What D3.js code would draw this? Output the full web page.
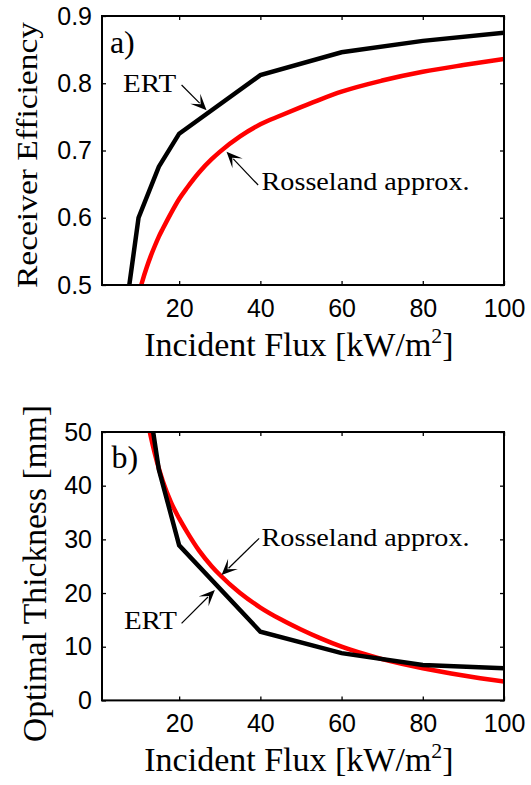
<!DOCTYPE html>
<html><head><meta charset="utf-8">
<script src="https://cdn.jsdelivr.net/npm/d3@7"></script>
<style>
html,body{margin:0;padding:0;background:#fff;}
svg{display:block;}
</style></head>
<body>
<script>
// ---------- data ----------
const xTicks = [20, 40, 60, 80, 100];
const effTicks = [0.5, 0.6, 0.7, 0.8, 0.9];
const effTickLabels = ["0.5", "0.6", "0.7", "0.8", "0.9"];
const thkTicks = [0, 10, 20, 30, 40, 50];

// ERT (black) — panel a: receiver efficiency
const ertFlux = [5, 10, 15, 20, 40, 60, 80, 100];
const ertEff  = [0.38, 0.60, 0.676, 0.725, 0.812, 0.846, 0.863, 0.875];
// ERT (black) — panel b: optimal thickness [mm]
const ertThk  = [90, 68, 43, 28.9, 12.8, 8.8, 6.6, 6.0];

// Rosseland approx. (red)
const rossFlux = [10, 11, 12, 13, 14, 15, 16, 18, 20, 22, 25, 28, 30, 35, 40, 45, 50, 55, 60, 70, 80, 90, 100];
const rossEff  = [0.485, 0.507, 0.526, 0.543, 0.558, 0.572, 0.584, 0.607, 0.628, 0.645, 0.668, 0.687, 0.698, 0.721, 0.739, 0.752, 0.7645, 0.7765, 0.7875, 0.804, 0.817, 0.827, 0.836];
const rossThk  = [62.5, 57.5, 53, 49.2, 46, 43.2, 40.8, 36.9, 33.9, 31.3, 27.8, 25.0, 23.4, 20.0, 17.3, 15.1, 13.2, 11.5, 10.0, 7.7, 6.0, 4.65, 3.5];

// annotations (data units of each panel)
const panelTags = ["a)", "b)"];
const tagPos = [[2.95, 0.8445], [3.36, 43.3]];
const annotA = [
  {text: "ERT", tx: 6.2, ty: 0.7874, from: [20.6, 0.7974], to: [26.75, 0.760]},
  {text: "Rosseland approx.", tx: 40.3, ty: 0.6413, from: [39.45, 0.6487], to: [31.67, 0.6982]}
];
const annotB = [
  {text: "Rosseland approx.", tx: 40.3, ty: 28.75, from: [39.7, 30.19], to: [30.44, 23.35]},
  {text: "ERT", tx: 6.4, ty: 13.3, from: [20.6, 14.36], to: [28.8, 20.56]}
];

// ---------- layout ----------
const SERIF = "'Liberation Serif', 'DejaVu Serif', 'Times New Roman', serif";
const SANS = "'Liberation Sans', Arial, Helvetica, sans-serif";
const W = 531, H = 785;
const svg = d3.select("body").append("svg").attr("width", W).attr("height", H);
const x = d3.scaleLinear().domain([1, 100]).range([102, 504]);

function serifText(sel) {
  return sel.append("text").attr("font-family", SERIF).style("font-family", SERIF).attr("fill", "#000");
}

function panel(idx, y0, y1, yDomain, yTicks, yLabels, ertY, rossY, annots, yTitle, yTitleFs, yTitleLen, yTitleX, yTitleY) {
  const y = d3.scaleLinear().domain(yDomain).range([y1, y0]);
  const g = svg.append("g");
  const clipId = "clip" + idx;
  svg.append("clipPath").attr("id", clipId).append("rect")
    .attr("x", x.range()[0]).attr("y", y0).attr("width", x.range()[1] - x.range()[0]).attr("height", y1 - y0);

  // axes (inward ticks, mirrored)
  const ab = g.append("g").attr("transform", `translate(0,${y1})`)
    .call(d3.axisBottom(x).tickValues(xTicks).tickSizeInner(-4).tickSizeOuter(0).tickPadding(14));
  const at = g.append("g").attr("transform", `translate(0,${y0})`)
    .call(d3.axisTop(x).tickValues(xTicks).tickSizeInner(-4).tickSizeOuter(0).tickFormat(""));
  const al = g.append("g").attr("transform", `translate(${x.range()[0]},0)`)
    .call(d3.axisLeft(y).tickValues(yTicks).tickSizeInner(-4).tickSizeOuter(0).tickPadding(10)
      .tickFormat((d, i) => yLabels[i]));
  const ar = g.append("g").attr("transform", `translate(${x.range()[1]},0)`)
    .call(d3.axisRight(y).tickValues(yTicks).tickSizeInner(-4).tickSizeOuter(0).tickFormat(""));
  [ab, at, al, ar].forEach(a => {
    a.select(".domain").remove();
    a.attr("font-family", SANS).attr("font-size", 25);
    a.selectAll(".tick line").attr("stroke", "#000").attr("stroke-width", 1.3);
    a.selectAll(".tick text").attr("fill", "#000");
  });
  ab.selectAll(".tick text").attr("dy", "0.71em");

  // lines
  const plot = g.append("g").attr("clip-path", `url(#${clipId})`);
  const redLine = d3.line().x((d, i) => x(rossFlux[i])).y(d => y(d)).curve(d3.curveMonotoneX);
  const blackLine = d3.line().x((d, i) => x(ertFlux[i])).y(d => y(d));
  plot.append("path").datum(rossY).attr("d", redLine)
    .attr("fill", "none").attr("stroke", "#ff0000").attr("stroke-width", 4.5);
  plot.append("path").datum(ertY).attr("d", blackLine)
    .attr("fill", "none").attr("stroke", "#000").attr("stroke-width", 4.5);

  // box
  g.append("rect").attr("x", x.range()[0]).attr("y", y0)
    .attr("width", x.range()[1] - x.range()[0]).attr("height", y1 - y0)
    .attr("fill", "none").attr("stroke", "#000").attr("stroke-width", 2);

  // panel tag
  serifText(g).attr("x", x(tagPos[idx][0])).attr("y", y(tagPos[idx][1]))
    .attr("font-size", 32).text(panelTags[idx]);

  // annotations
  annots.forEach(a => {
    serifText(g).attr("x", x(a.tx)).attr("y", y(a.ty))
      .attr("font-size", 26)
      .attr("textLength", a.text === "ERT" ? 53 : 208).attr("lengthAdjust", "spacingAndGlyphs")
      .text(a.text);
    const x1 = x(a.from[0]), y1p = y(a.from[1]), x2 = x(a.to[0]), y2 = y(a.to[1]);
    const ang = Math.atan2(y2 - y1p, x2 - x1);
    const L = 14, Wd = 7;
    g.append("line").attr("x1", x1).attr("y1", y1p)
      .attr("x2", x2 - Math.cos(ang) * L * 0.7).attr("y2", y2 - Math.sin(ang) * L * 0.7)
      .attr("stroke", "#000").attr("stroke-width", 1.2);
    const c = Math.cos(ang), s = Math.sin(ang);
    const pt = (u, v) => [x2 + u * c - v * s, y2 + u * s + v * c];
    const pts = [pt(0, 0), pt(-L - 2, Wd), pt(-L * 0.6, 0), pt(-L - 2, -Wd)];
    g.append("path").attr("d", "M" + pts.map(p => p.join(",")).join("L") + "Z")
      .attr("fill", "#000");
  });

  // x title
  const xt = serifText(g).attr("x", 299).attr("y", y1 + 71)
    .attr("text-anchor", "middle").attr("font-size", 34);
  xt.append("tspan").text("Incident Flux [kW/m");
  xt.append("tspan").attr("font-size", 22).attr("dy", -13).text("2");
  xt.append("tspan").attr("dy", 13).text("]");

  // y title
  serifText(g)
    .attr("transform", `translate(${yTitleX},${yTitleY}) rotate(-90)`)
    .attr("text-anchor", "middle").attr("font-size", yTitleFs)
    .attr("textLength", yTitleLen).attr("lengthAdjust", "spacingAndGlyphs")
    .text(yTitle);
}

panel(0, 16, 285, [0.5, 0.9], effTicks, effTickLabels, ertEff, rossEff, annotA,
  "Receiver Efficiency", 30, 266, 37, 155);
panel(1, 432, 700.4, [0, 50], thkTicks, thkTicks.map(String), ertThk, rossThk, annotB,
  "Optimal Thickness [mm]", 34, 337, 45.5, 573.5);
</script>
</body></html>
